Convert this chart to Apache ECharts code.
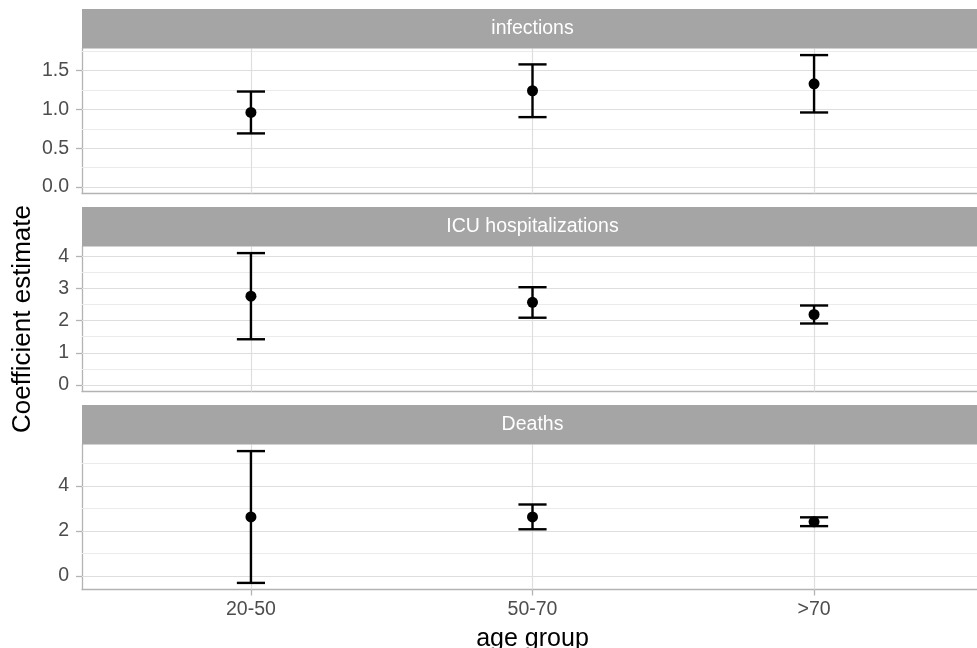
<!DOCTYPE html>
<html>
<head>
<meta charset="utf-8">
<script src="https://cdn.jsdelivr.net/npm/echarts@6/dist/echarts.min.js"></script>
<style>
html,body{margin:0;padding:0;background:#fff;}
#chart{width:977px;height:648px;}
</style>
</head>
<body>
<div id="chart"></div>
<script>
// ---- data ----
const categories = ['20-50', '50-70', '>70'];
const panelTitles = ['infections', 'ICU hospitalizations', 'Deaths'];

const infEst  = [0.96, 1.24, 1.33];
const infLow  = [0.69, 0.90, 0.96];
const infHigh = [1.23, 1.58, 1.70];

const icuEst  = [2.76, 2.57, 2.19];
const icuLow  = [1.42, 2.09, 1.91];
const icuHigh = [4.10, 3.04, 2.47];

const deathEst  = [2.62, 2.62, 2.40];
const deathLow  = [-0.31, 2.07, 2.21];
const deathHigh = [5.54, 3.17, 2.60];

const infTicks   = [0, 0.5, 1, 1.5];
const icuTicks   = [0, 1, 2, 3, 4];
const deathTicks = [0, 2, 4];

// ---- layout / style ----
const FONT = 'Liberation Sans, Arial, Helvetica, sans-serif';
const LEFT = 82, FULLW = 901, PH = 145, STRIP = 39.5;
const tops = [48.5, 246.5, 444.5];
const XMIN = 0.4, XMAX = categories.length + 0.6;

const panels = [
  {est: infEst, low: infLow, high: infHigh, ticks: infTicks},
  {est: icuEst, low: icuLow, high: icuHigh, ticks: icuTicks},
  {est: deathEst, low: deathLow, high: deathHigh, ticks: deathTicks}
];

function yRange(p) {
  const lo = Math.min(0, ...p.low), hi = Math.max(...p.high);
  const pad = (hi - lo) * 0.05;
  return [lo - pad, hi + pad];
}
function minors(ticks, lo, hi) {
  const step = ticks[1] - ticks[0];
  const out = [];
  for (let v = ticks[0] - step / 2; v <= ticks[ticks.length - 1] + step; v += step) {
    if (v > lo && v < hi) out.push(+v.toFixed(6));
  }
  return out;
}

const BORDER = {color: '#B3B3B3', width: 1.3};
const grids = [], xAxes = [], yAxes = [], series = [], graphics = [];
panels.forEach((p, i) => {
  const [ymin, ymax] = yRange(p);
  grids.push({left: LEFT, top: tops[i], width: FULLW, height: PH,
    outerBoundsMode: 'none', containLabel: false,
    show: true, borderWidth: 0, backgroundColor: '#fff'});
  const last = i === panels.length - 1;
  const xs = categories.map((c, k) => k + 1);
  xAxes.push({
    type: 'value', gridIndex: i, min: XMIN, max: XMAX,
    axisLine: {show: true, onZero: false, lineStyle: BORDER},
    axisTick: {show: last, customValues: xs, length: 6, lineStyle: BORDER},
    axisLabel: {show: last, customValues: xs,
      formatter: v => categories[Math.round(v) - 1] || '',
      color: '#4D4D4D', fontSize: 19.5, fontFamily: FONT, margin: 10},
    splitLine: {show: false},
    name: last ? 'age group' : '', nameLocation: 'middle', nameGap: 37,
    nameTextStyle: {color: '#000', fontSize: 25, fontFamily: FONT}
  });
  yAxes.push({
    type: 'value', gridIndex: i, min: ymin, max: ymax,
    axisLine: {show: true, onZero: false, lineStyle: BORDER},
    axisTick: {show: true, customValues: p.ticks, length: 6, lineStyle: BORDER},
    axisLabel: {customValues: p.ticks, formatter: v => (i === 0 ? v.toFixed(1) : String(v)),
      color: '#4D4D4D', fontSize: 19.5, fontFamily: FONT, margin: 13},
    splitLine: {show: false},
    name: i === 1 ? 'Coefficient estimate' : '', nameLocation: 'middle', nameGap: 46,
    nameTextStyle: {color: '#000', fontSize: 26, fontFamily: FONT}
  });
  const ml = [];
  minors(p.ticks, ymin, ymax).forEach(v => ml.push({yAxis: v, lineStyle: {color: '#EBEBEB', width: 1, type: 'solid'}}));
  p.ticks.forEach(v => ml.push({yAxis: v, lineStyle: {color: '#DEDEDE', width: 1.2, type: 'solid'}}));
  xs.forEach(v => ml.push({xAxis: v, lineStyle: {color: '#DEDEDE', width: 1.2, type: 'solid'}}));
  series.push({
    type: 'line', xAxisIndex: i, yAxisIndex: i, z: 1, silent: true,
    data: xs.map((x, k) => [x, p.est[k]]), showSymbol: false,
    lineStyle: {opacity: 0},
    markLine: {silent: true, symbol: ['none', 'none'], label: {show: false}, animation: false, data: ml}
  });
  series.push({
    type: 'custom', xAxisIndex: i, yAxisIndex: i, z: 5,
    data: xs.map((x, k) => [x, p.low[k], p.high[k]]),
    encode: {x: 0, y: [1, 2]},
    renderItem: (params, api) => {
      const x = api.value(0);
      const a = api.coord([x, api.value(2)]);
      const b = api.coord([x, api.value(1)]);
      const hw = api.size([0.1, 0])[0] / 2;
      const st = {stroke: '#000', lineWidth: 2.4};
      return {type: 'group', children: [
        {type: 'line', shape: {x1: a[0], y1: a[1], x2: b[0], y2: b[1]}, style: st},
        {type: 'line', shape: {x1: a[0] - hw, y1: a[1], x2: a[0] + hw, y2: a[1]}, style: st},
        {type: 'line', shape: {x1: b[0] - hw, y1: b[1], x2: b[0] + hw, y2: b[1]}, style: st}
      ]};
    }
  });
  series.push({
    type: 'scatter', xAxisIndex: i, yAxisIndex: i, z: 6,
    data: xs.map((x, k) => [x, p.est[k]]),
    symbol: 'circle', symbolSize: 11, itemStyle: {color: '#000', opacity: 1}
  });
  graphics.push({type: 'rect', left: LEFT, top: tops[i] - STRIP, z: 10,
    shape: {width: FULLW, height: STRIP}, style: {fill: '#A5A5A5'}});
  graphics.push({type: 'text', x: LEFT + FULLW / 2, y: tops[i] - STRIP / 2, z: 11,
    style: {text: panelTitles[i], fill: '#fff', fontSize: 19.5, fontFamily: FONT,
      align: 'center', verticalAlign: 'middle'}});
});

const chart = echarts.init(document.getElementById('chart'), null, {renderer: 'canvas'});
chart.setOption({
  animation: false,
  backgroundColor: '#fff',
  grid: grids, xAxis: xAxes, yAxis: yAxes, series: series, graphic: graphics
});
</script>
</body>
</html>
